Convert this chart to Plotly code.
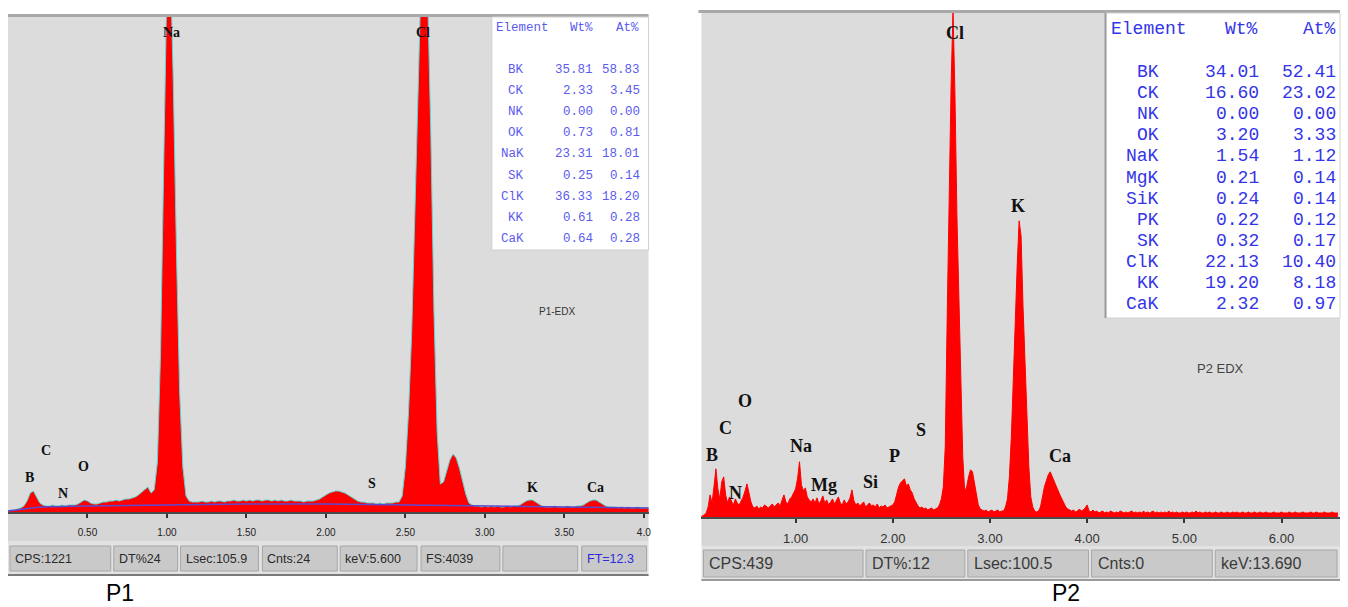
import numpy as np
import plotly.graph_objects as go

W, H = 1348, 607

# ======================= DATA =======================
# --- P1 spectrum (channel width 0.02 keV, starting at 0.00 keV), counts ---
P1_STEP_KEV = 0.02
p1_counts = [
    8, 16, 16, 24, 32, 48, 88, 152, 168, 120,
    72, 56, 48, 48, 56, 48, 48, 56, 48, 56,
    56, 56, 64, 80, 96, 88, 72, 64, 64, 72,
    80, 80, 88, 88, 96, 88, 96, 104, 104, 112,
    120, 136, 160, 184, 200, 152, 176, 400, 1280, 2800,
    4240, 4480, 3440, 2080, 960, 360, 128, 88, 80, 80,
    80, 88, 80, 80, 88, 80, 88, 88, 80, 88,
    88, 96, 88, 88, 96, 88, 96, 88, 96, 96,
    88, 96, 96, 88, 96, 88, 96, 88, 88, 96,
    88, 88, 88, 80, 88, 88, 88, 96, 104, 120,
    136, 152, 160, 168, 168, 160, 152, 136, 120, 104,
    88, 80, 80, 72, 72, 72, 64, 72, 64, 72,
    72, 72, 80, 80, 128, 360, 800, 1440, 2400, 3600,
    4320, 4560, 4160, 3040, 1600, 640, 224, 240, 336, 416,
    464, 432, 352, 256, 144, 72, 56, 48, 48, 40,
    48, 40, 48, 40, 48, 40, 40, 48, 40, 48,
    48, 56, 72, 88, 96, 96, 80, 64, 48, 40,
    40, 40, 48, 40, 40, 40, 48, 40, 40, 48,
    48, 56, 72, 88, 96, 96, 80, 64, 48, 40,
    40, 40, 32, 40, 32, 40, 32, 32, 40, 32,
    32, 32, 32,
]
p1_energy_keV = np.round(np.arange(len(p1_counts)) * P1_STEP_KEV, 2)

# P1 fitted background line
p1_bkg_keV = [0.0, 0.1, 0.2, 0.5, 1.0, 1.5, 2.0, 2.5, 3.0, 3.5, 4.04]
p1_bkg_counts = [8, 24, 40, 48, 56, 64, 64, 56, 48, 40, 32]

# --- P2 spectrum (channel width 0.02 keV, starting at 0.00 keV), counts ---
P2_STEP_KEV = 0.02
p2_counts = [
    0, 0, 1, 2, 4, 10, 22, 14, 30, 48,
    28, 18, 35, 40, 22, 14, 20, 16, 12, 18,
    14, 12, 16, 20, 26, 33, 24, 15, 10, 9,
    11, 8, 10, 9, 12, 10, 9, 11, 13, 10,
    12, 14, 11, 16, 22, 15, 13, 18, 20, 24,
    28, 38, 55, 32, 26, 29, 20, 17, 15, 18,
    14, 19, 13, 16, 21, 14, 17, 12, 15, 18,
    13, 16, 20, 14, 12, 17, 13, 15, 19, 27,
    16, 12, 14, 11, 13, 15, 10, 12, 14, 11,
    12, 10, 13, 9, 11, 10, 12, 9, 10, 11,
    12, 15, 22, 30, 34, 36, 38, 31, 33, 27,
    24, 18, 14, 11, 9, 10, 8, 9, 7, 8,
    9, 7, 8, 9, 12, 18, 30, 70, 200, 330,
    430, 505, 420, 300, 220, 120, 60, 25, 30, 40,
    47, 45, 35, 25, 12, 8, 7, 6, 7, 5,
    6, 7, 5, 6, 7, 5, 6, 6, 10, 18,
    40, 80, 140, 190, 250, 295, 280, 210, 160, 100,
    50, 20, 10, 6, 5, 6, 10, 20, 30, 36,
    42, 45, 40, 35, 30, 27, 22, 18, 14, 10,
    8, 7, 6, 7, 5, 6, 8, 6, 7, 9,
    12, 6, 5, 7, 5, 6, 4, 5, 6, 4,
    5, 4, 6, 5, 4, 5, 4, 6, 5, 4,
    5, 4, 5, 6, 4, 5, 4, 5, 4, 6,
    4, 5, 4, 5, 6, 4, 5, 4, 5, 4,
    5, 4, 6, 4, 5, 4, 5, 4, 4, 5,
    4, 5, 4, 4, 5, 4, 6, 4, 5, 4,
    4, 5, 4, 5, 4, 4, 5, 4, 4, 5,
    4, 4, 5, 4, 4, 5, 4, 5, 4, 4,
    5, 4, 4, 5, 4, 4, 5, 4, 4, 5,
    4, 4, 5, 4, 4, 4, 5, 4, 4, 4,
    5, 4, 4, 4, 5, 4, 4, 5, 4, 4,
    4, 5, 4, 4, 4, 5, 4, 4, 5, 4,
    4, 4, 5, 4, 4, 4, 5, 4, 4, 4,
]
p2_energy_keV = np.round(np.arange(len(p2_counts)) * P2_STEP_KEV, 2)

# --- tick labels ---
p1_tick_keV = [0.5, 1.0, 1.5, 2.0, 2.5, 3.0, 3.5, 4.0]
p1_tick_text = ["0.50", "1.00", "1.50", "2.00", "2.50", "3.00", "3.50", "4.0"]
p2_tick_keV = [1, 2, 3, 4, 5, 6]
p2_tick_text = ["1.00", "2.00", "3.00", "4.00", "5.00", "6.00"]

# --- quantification tables ---
p1_elements = ["BK", "CK", "NK", "OK", "NaK", "SK", "ClK", "KK", "CaK"]
p1_wt = [35.81, 2.33, 0.00, 0.73, 23.31, 0.25, 36.33, 0.61, 0.64]
p1_at = [58.83, 3.45, 0.00, 0.81, 18.01, 0.14, 18.20, 0.28, 0.28]

p2_elements = ["BK", "CK", "NK", "OK", "NaK", "MgK", "SiK", "PK", "SK", "ClK", "KK", "CaK"]
p2_wt = [34.01, 16.60, 0.00, 3.20, 1.54, 0.21, 0.24, 0.22, 0.32, 22.13, 19.20, 2.32]
p2_at = [52.41, 23.02, 0.00, 3.33, 1.12, 0.14, 0.14, 0.12, 0.17, 10.40, 8.18, 0.97]

# --- peak labels ---
p1_peak_labels = ["B", "C", "N", "O", "Na", "S", "Cl", "K", "Ca"]
p2_peak_labels = ["B", "C", "O", "N", "Na", "Mg", "Si", "P", "S", "Cl", "K", "Ca"]

# --- status bars ---
p1_status = ["CPS:1221", "DT%24", "Lsec:105.9", "Cnts:24", "keV:5.600", "FS:4039", "", "FT=12.3"]
p2_status = ["CPS:439", "DT%:12", "Lsec:100.5", "Cnts:0", "keV:13.690"]

# ======================= LAYOUT HELPERS =======================
def px(x):
    return x / W


def py(y):
    return 1 - y / H


# pixel geometry (layout only)
P1_BOX = (8, 650, 17, 512)
P2_BOX = (703, 1343, 13, 517)
p1_peak_pos = [(30, 477), (46, 450), (63, 493), (84, 466), (172, 33), (373, 483), (424, 33), (534, 487), (597, 487)]
p2_peak_pos = [(714, 455), (727, 428), (747, 401), (737, 493), (803, 446), (826, 485), (872, 482), (896, 456),
               (923, 430), (957, 33), (1020, 206), (1062, 456)]
p1_status_boxes = [(10, 111), (114, 178), (181, 259), (263, 338), (341, 418), (422, 501), (504, 579), (583, 648)]
p2_status_boxes = [(705, 865), (868, 967), (970, 1091), (1094, 1215), (1218, 1340)]

fig = go.Figure()

# ---------------- traces ----------------
fig.add_trace(go.Scatter(
    x=p1_energy_keV, y=p1_counts, mode="lines",
    line=dict(color="#5fd6d6", width=1), fill="tozeroy", fillcolor="#ff0000",
    xaxis="x", yaxis="y", hoverinfo="skip", showlegend=False))
fig.add_trace(go.Scatter(
    x=p1_bkg_keV, y=p1_bkg_counts, mode="lines",
    line=dict(color="#5a4ad0", width=1.5),
    xaxis="x", yaxis="y", hoverinfo="skip", showlegend=False))
fig.add_trace(go.Scatter(
    x=p2_energy_keV, y=p2_counts, mode="lines",
    line=dict(color="#ff0000", width=1), fill="tozeroy", fillcolor="#ff0000",
    xaxis="x2", yaxis="y2", hoverinfo="skip", showlegend=False))

shapes = []
annotations = []


def rect(x0, x1, y0, y1, fill, line=None, lw=0, layer="below"):
    shapes.append(dict(type="rect", xref="paper", yref="paper",
                       x0=px(x0), x1=px(x1), y0=py(y1), y1=py(y0),
                       fillcolor=fill, line=dict(color=line or fill, width=lw), layer=layer))


def text(t, x, y, size, color="#000", family="Liberation Sans", xanchor="center", yanchor="middle"):
    annotations.append(dict(text=t, x=px(x), y=py(y), xref="paper", yref="paper",
                            showarrow=False, xanchor=xanchor, yanchor=yanchor,
                            font=dict(size=size, color=color, family=family)))


# ---------------- panel chrome P1 ----------------
x0, x1, y0, y1 = P1_BOX
rect(x0, x1, y0 - 3, y0, "#a8a8a8")
rect(x0, x1, y1, y1 + 29, "#d6d6d6")
rect(x0, x1, y1 + 29, y1 + 64, "#e2e2e2")
rect(x0, x1, y1 + 62, y1 + 64, "#7a7a7a")
for (bx0, bx1), s in zip(p1_status_boxes, p1_status):
    rect(bx0, bx1, 546, 571, "#c9c9c9", "#a6a6a6", 1)
    col = "#2a2ae0" if s.startswith("FT") else "#2a2a2a"
    text(s, bx0 + 3, 558.5, 12.5, col, "Liberation Sans Narrow, Liberation Sans", xanchor="left")
# table box
rect(493, 650, 17, 250, "#ffffff", "#d0d0d0", 1, layer="above")
text("Element", 495, 28, 12.5, "#5b5bf0", "Liberation Mono", xanchor="left")
text("Wt%", 596, 28, 12.5, "#5b5bf0", "Liberation Mono", xanchor="right")
text("At%", 642, 28, 12.5, "#5b5bf0", "Liberation Mono", xanchor="right")
for i, (e, w, a) in enumerate(zip(p1_elements, p1_wt, p1_at)):
    yy = 70 + 21.1 * i
    text(e, 527, yy, 12.5, "#5b5bf0", "Liberation Mono", xanchor="right")
    text(f"{w:.2f}", 596, yy, 12.5, "#5b5bf0", "Liberation Mono", xanchor="right")
    text(f"{a:.2f}", 643, yy, 12.5, "#5b5bf0", "Liberation Mono", xanchor="right")
text("P1-EDX", 558, 311, 10, "#333", "Liberation Sans Narrow, Liberation Sans")
for lab, (lx, ly) in zip(p1_peak_labels, p1_peak_pos):
    text(f"<b>{lab}</b>", lx, ly, 14, "#111", "Liberation Serif")
text("P1", 120, 593, 23, "#000", "Liberation Sans")

# ---------------- panel chrome P2 ----------------
x0, x1, y0, y1 = P2_BOX
rect(x0 - 3, x1, y0 - 3, y0, "#a8a8a8")
rect(x0, x1, y1, y1 + 29, "#d6d6d6")
rect(x0, x1, y1 + 29, y1 + 64, "#e2e2e2")
rect(x0, x1, y1 + 62, y1 + 64, "#9a9a9a")
for (bx0, bx1), s in zip(p2_status_boxes, p2_status):
    rect(bx0, bx1, 550, 577, "#c9c9c9", "#a6a6a6", 1)
    text(s, bx0 + 4, 563.5, 16, "#3a3a3a", "Liberation Sans", xanchor="left")
rect(1108, 1343, 13, 318, "#ffffff", "#d0d0d0", 1, layer="above")
rect(1107, 1109, 13, 318, "#9a9a9a", layer="above")
text("Element", 1111, 29, 18, "#3434e8", "Liberation Mono", xanchor="left")
text("Wt%", 1263, 29, 18, "#3434e8", "Liberation Mono", xanchor="right")
text("At%", 1341, 29, 18, "#3434e8", "Liberation Mono", xanchor="right")
for i, (e, w, a) in enumerate(zip(p2_elements, p2_wt, p2_at)):
    yy = 72 + 21.1 * i
    text(e, 1164, yy, 18, "#3434e8", "Liberation Mono", xanchor="right")
    text(f"{w:.2f}", 1264, yy, 18, "#3434e8", "Liberation Mono", xanchor="right")
    text(f"{a:.2f}", 1341, yy, 18, "#3434e8", "Liberation Mono", xanchor="right")
text("P2 EDX", 1223, 368, 13, "#444", "Liberation Sans Narrow, Liberation Sans")
for lab, (lx, ly) in zip(p2_peak_labels, p2_peak_pos):
    text(f"<b>{lab}</b>", lx, ly, 18, "#111", "Liberation Serif")
text("P2", 1068, 593, 23, "#000", "Liberation Sans")

# ---------------- axes ----------------
common_x = dict(showgrid=False, zeroline=False, showline=True, linecolor="#4a4a4a", linewidth=2,
                ticks="outside", ticklen=4, tickwidth=2, tickcolor="#333", fixedrange=True)
fig.update_layout(
    width=W, height=H, margin=dict(l=0, r=0, t=0, b=0),
    paper_bgcolor="#ffffff", plot_bgcolor="#dcdcdc", showlegend=False,
    xaxis=dict(domain=[px(P1_BOX[0]), px(P1_BOX[1])], range=[0, 4.03], anchor="y",
               tickvals=p1_tick_keV, ticktext=p1_tick_text, ticklabelstandoff=6,
               tickfont=dict(size=10, color="#222", family="Liberation Sans Narrow, Liberation Sans"),
               **common_x),
    yaxis=dict(domain=[py(P1_BOX[3]), py(P1_BOX[2])], range=[0, 3960], visible=False, anchor="x",
               fixedrange=True),
    xaxis2=dict(domain=[px(P2_BOX[0]), px(P2_BOX[1])], range=[0.031, 6.602], anchor="y2",
                tickvals=p2_tick_keV, ticktext=p2_tick_text, ticklabelstandoff=4,
                tickfont=dict(size=13, color="#333", family="Liberation Sans Narrow, Liberation Sans"),
                **common_x),
    yaxis2=dict(domain=[py(P2_BOX[3]), py(P2_BOX[2])], range=[0, 502], visible=False, anchor="x2",
                fixedrange=True),
    shapes=shapes, annotations=annotations,
)

fig.write_html("out.html", include_plotlyjs=True, config={"displayModeBar": False})
